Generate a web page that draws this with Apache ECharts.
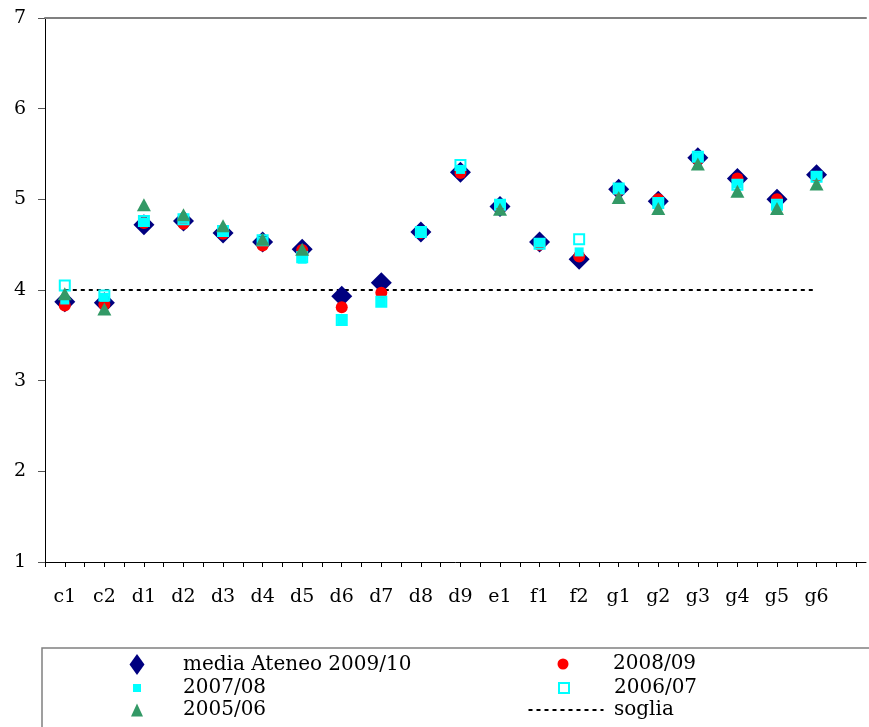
<!DOCTYPE html>
<html>
<head>
<meta charset="utf-8">
<script src="https://cdn.jsdelivr.net/npm/echarts@6/dist/echarts.min.js"></script>
<style>
  html, body { margin: 0; padding: 0; background: #fff; }
  #main { width: 869px; height: 727px; }
</style>
</head>
<body>
<div id="main"></div>
<script>
// categorie (asse x)
var categories = ['c1', 'c2', 'd1', 'd2', 'd3', 'd4', 'd5', 'd6', 'd7', 'd8', 'd9',
                  'e1', 'f1', 'f2', 'g1', 'g2', 'g3', 'g4', 'g5', 'g6'];

var yTicks = [1, 2, 3, 4, 5, 6, 7];

// valori
var media2009 = [3.87, 3.86, 4.72, 4.76, 4.63, 4.53, 4.45, 3.93, 4.08, 4.64, 5.30,
                 4.92, 4.53, 4.34, 5.11, 4.98, 5.46, 5.23, 5.00, 5.27];
var anno2008 = [3.83, 3.84, 4.74, 4.73, 4.62, 4.49, 4.44, 3.81, 3.97, 4.63, 5.29,
                4.91, 4.50, 4.37, 5.10, 5.00, 5.44, 5.23, 5.00, 5.25];
var anno2007 = [3.89, 3.92, 4.75, 4.79, 4.64, 4.54, 4.34, 3.67, 3.87, 4.64, 5.33,
                4.95, 4.52, 4.42, 5.12, 4.96, 5.47, 5.17, 4.94, 5.26];
var anno2006 = [4.05, 3.94, 4.76, 4.78, 4.65, 4.55, 4.36, 3.67, 3.87, 4.64, 5.38,
                4.94, 4.51, 4.56, 5.12, 4.96, 5.47, 5.16, 4.94, 5.25];
var anno2005 = [3.96, 3.79, 4.94, 4.83, 4.71, 4.56, 4.45, null, null, null, null,
                4.89, null, null, 5.02, 4.90, 5.39, 5.09, 4.90, 5.17];
var soglia = [4, 4, 4, 4, 4, 4, 4, 4, 4, 4, 4, 4, 4, 4, 4, 4, 4, 4, 4, 4];

var FONT = 'DejaVu Serif';

function toPoints(arr) {
    var out = [];
    for (var i = 0; i < arr.length; i++) {
        if (arr[i] != null) out.push([i + 1, arr[i]]);
    }
    return out;
}

// tacche ogni mezza categoria, etichette sulle categorie
var tickPos = [];
for (var t = 0.5; t <= categories.length + 1; t += 0.5) tickPos.push(t);
var labelPos = categories.map(function (c, i) { return i + 1; });

// una legenda per voce: icona centrata in cx, testo che parte da tx
function legendItem(name, cx, tx, top, w, h, extra) {
    var left = cx - w / 2;
    var o = {
        data: [name],
        left: left, top: top,
        orient: 'vertical',
        padding: 0,
        itemWidth: w, itemHeight: h,
        selectedMode: false,
        textStyle: {
            fontFamily: FONT, fontSize: 20, color: '#000',
            padding: [0, 0, 0, tx - (left + w + 5)]
        }
    };
    if (extra) for (var k in extra) o[k] = extra[k];
    return o;
}

function build() {
    var chart = echarts.init(document.getElementById('main'));

    var option = {
        animation: false,
        backgroundColor: '#fff',
        grid: { left: 45, right: 3, top: 18, bottom: 165 },
        xAxis: [{
            type: 'value',
            min: 0.5, max: 21.25,
            axisLine: { show: true, onZero: false, lineStyle: { color: '#000', width: 1 } },
            axisTick: { show: true, inside: false, length: 5, customValues: tickPos, lineStyle: { color: '#000' } },
            axisLabel: {
                customValues: labelPos,
                margin: 26,
                fontFamily: FONT, fontSize: 19, color: '#000',
                formatter: function (v) { return categories[Math.round(v) - 1] || ''; }
            },
            splitLine: { show: false }
        }, {
            type: 'value',
            position: 'top',
            min: 0.5, max: 21.25,
            axisLine: { show: true, lineStyle: { color: '#808080', width: 2 } },
            axisTick: { show: false },
            axisLabel: { show: false },
            splitLine: { show: false }
        }],
        yAxis: {
            type: 'value',
            min: yTicks[0], max: yTicks[yTicks.length - 1], interval: 1,
            axisLine: { show: true, lineStyle: { color: '#000', width: 1 } },
            axisTick: { show: true, length: 7, lineStyle: { color: '#555' } },
            axisLabel: { margin: 19, fontFamily: FONT, fontSize: 19, color: '#000' },
            splitLine: { show: false }
        },
        legend: [
            legendItem('media Ateneo 2009/10', 137, 183, 654, 15, 21),
            legendItem('2007/08', 137, 183, 678, 8, 8),
            legendItem('2005/06', 137, 183, 700, 12, 13),
            legendItem('2008/09', 563, 613, 654, 11, 14),
            legendItem('2006/07', 563, 613, 678, 10, 10),
            legendItem('soglia', 565, 613, 700, 75, 14, { itemStyle: { opacity: 0 } })
        ],
        graphic: [{
            type: 'rect',
            shape: { x: 42, y: 648, width: 900, height: 120 },
            style: { fill: 'none', stroke: '#808080', lineWidth: 1.5 },
            silent: true
        }],
        series: [
            {
                name: 'soglia', type: 'line',
                data: toPoints(soglia),
                symbol: 'none',
                lineStyle: { color: '#000', width: 2, type: [4, 4] },
                itemStyle: { color: '#000' },
                z: 1
            },
            {
                name: 'media Ateneo 2009/10', type: 'scatter',
                data: toPoints(media2009),
                symbol: 'diamond', symbolSize: 21,
                itemStyle: { color: '#000080', opacity: 1 }
            },
            {
                name: '2008/09', type: 'scatter',
                data: toPoints(anno2008),
                symbol: 'circle', symbolSize: 12,
                itemStyle: { color: '#ff0000', opacity: 1 }
            },
            {
                name: '2007/08', type: 'scatter',
                data: toPoints(anno2007),
                symbol: 'rect', symbolSize: 9,
                itemStyle: { color: '#00ffff', opacity: 1 }
            },
            {
                name: '2006/07', type: 'scatter',
                data: toPoints(anno2006),
                symbol: 'rect', symbolSize: 10,
                itemStyle: { color: 'rgba(0,0,0,0)', borderColor: '#00ffff', borderWidth: 2, opacity: 1 }
            },
            {
                name: '2005/06', type: 'scatter',
                data: toPoints(anno2005),
                symbol: 'triangle', symbolSize: [14, 13],
                itemStyle: { color: '#339966', opacity: 1 }
            }
        ]
    };

    chart.setOption(option);
}

build();
</script>
</body>
</html>
